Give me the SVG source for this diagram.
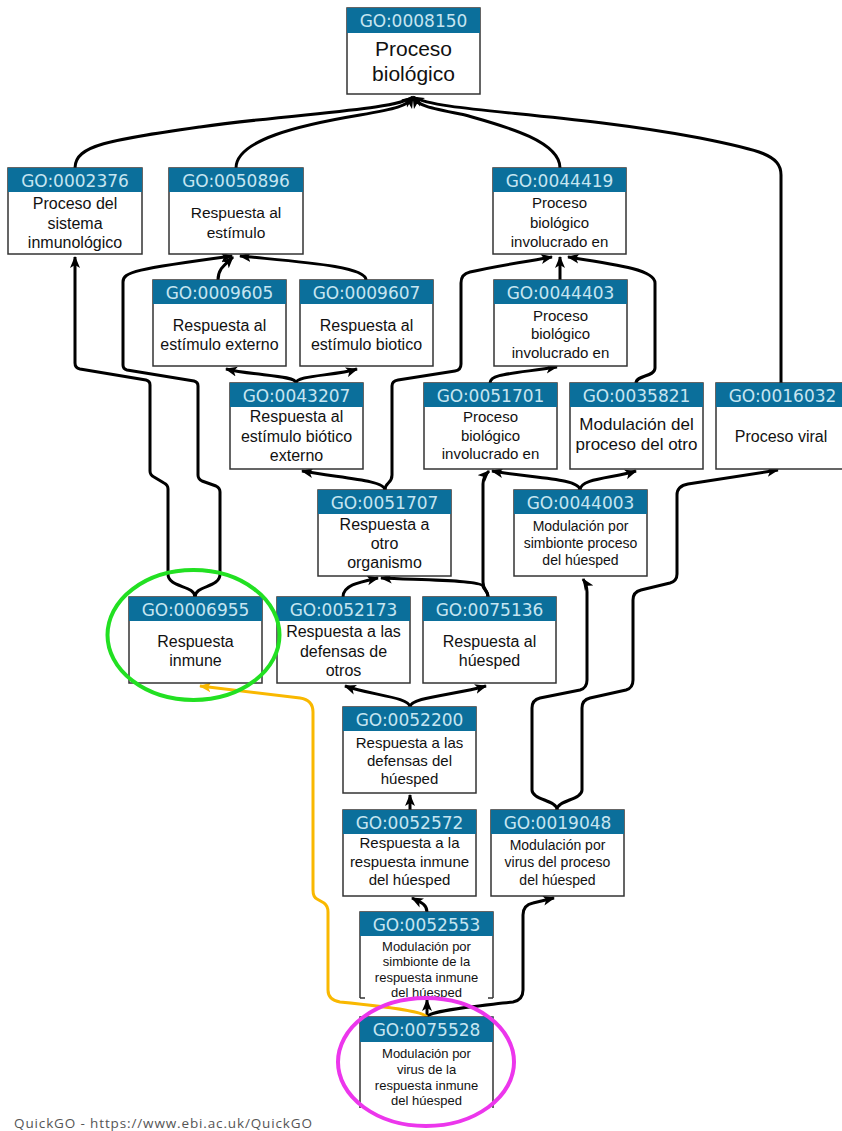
<svg xmlns="http://www.w3.org/2000/svg" width="842" height="1131" viewBox="0 0 842 1131">
<style>
.box{fill:#fff;stroke:#333;stroke-width:1.5}
.hdr{fill:#0b6f9b}
.id{font-family:"DejaVu Sans",sans-serif;font-size:17px;fill:#c6e5f1;text-anchor:middle}
.lbl{font-family:"Liberation Sans",Arial,sans-serif;fill:#111;text-anchor:middle}
.e{fill:none;stroke:#000;stroke-width:3;stroke-linejoin:round;marker-end:url(#ah)}
.y{fill:none;stroke:#f9b800;stroke-width:3;stroke-linejoin:round;marker-end:url(#ahy)}
.ring{fill:none;stroke-width:4}
</style>
<defs>
<marker id="ah" markerUnits="userSpaceOnUse" markerWidth="13" markerHeight="11" refX="11" refY="5" orient="auto" viewBox="0 0 13 10">
<path d="M0,0 L12,5 L0,10 L3,5 Z" fill="#000"/>
</marker>
<marker id="ahy" markerUnits="userSpaceOnUse" markerWidth="13" markerHeight="11" refX="11" refY="5" orient="auto" viewBox="0 0 13 10">
<path d="M0,0 L12,5 L0,10 L3,5 Z" fill="#f9b800"/>
</marker>
</defs>
<rect width="842" height="1131" fill="#fff"/>
<g id="connectors">
<path class="e" d="M75,168 C75,145 110,140 200,127 C300,113 395,110 413,97"/>
<path class="e" d="M236,168 C236,140 300,125 360,115 C395,109 408,106 413,97"/>
<path class="e" d="M560,168 C560,140 500,125 465,115 C430,108 418,106 413,97"/>
<path class="e" d="M781,383 L781,175 C781,155 760,150 700,138 C560,112 440,112 413,97"/>
<path class="e" d="M195,597 C195,585 168,588 168,574 L168,489 Q168,485 164,483 L154,477 Q150,475 150,471 L150,385 Q150,381 146,380 L80,369 Q75,368 75,363 L75,257"/>
<path class="e" d="M195,597 C195,585 220,588 220,574 L220,492 Q220,488 216,486 L202,481 Q198,479 198,475 L198,386 Q198,382 194,381 L127,370 Q123,369 123,365 L123,282 C123,272 135,269 232,256"/>
<path class="e" d="M218,280 C218,268 226,264 233,257"/>
<path class="e" d="M366,280 C366,266 300,262 240,256"/>
<path class="e" d="M296,383 C296,375 255,376 226,369"/>
<path class="e" d="M296,383 C296,375 335,376 357,369"/>
<path class="e" d="M560,280 L560,257"/>
<path class="e" d="M385,490 C385,482 392,484 392,475 L392,386 Q392,381 398,380 L455,371 Q461,370 461,364 L461,283 Q461,274 470,272 C495,266 530,261 552,257"/>
<path class="e" d="M636,383 C636,375 655,377 655,368 L655,283 C655,270 620,265 568,257"/>
<path class="e" d="M490,383 C490,374 510,374 557,367"/>
<path class="e" d="M385,490 C385,480 340,478 302,471"/>
<path class="e" d="M580,490 C580,478 530,478 492,471"/>
<path class="e" d="M580,490 C580,478 615,478 636,471"/>
<path class="e" d="M488,597 C488,590 483,590 483,582 L483,484 Q483,477 489,471"/>
<path class="e" d="M488,597 C488,590 483,590 483,586 C480,580 420,580 381,578"/>
<path class="e" d="M343,597 C343,585 360,582 378,578"/>
<path class="e" d="M557,810 C557,800 532,800 532,790 L532,708 Q532,700 540,698 L580,690 Q587,688 587,680 L587,592 Q587,585 583,579"/>
<path class="e" d="M557,810 C557,800 582,800 582,790 L582,708 Q582,700 590,698 L626,690 Q633,688 633,680 L633,600 Q633,592 641,590 L670,583 Q677,581 677,574 L677,495 Q677,486 688,484 L778,470"/>
<path class="e" d="M410,707 C410,697 370,695 345,686"/>
<path class="e" d="M410,707 C410,697 455,695 486,686"/>
<path class="e" d="M410,810 L410,795"/>
<path class="e" d="M427,912 C427,904 420,902 412,898"/>
<path class="e" d="M427,1017 L427,1000"/>
<path class="e" d="M427,1017 C430,1010 480,1006 513,1002 Q523,1000 523,990 L523,915 Q523,905 533,903 L554,898"/>
<path class="y" d="M427,1017 C424,1012 400,1008 340,1002 Q328,1000 328,990 L328,912 Q328,906 324,903 L317,899 Q313,897 313,890 L313,712 Q313,700 300,698 L200,686"/>
</g>
<g id="GO_0008150">
<rect class="box" x="347" y="8" width="133" height="86"/><rect class="hdr" x="347" y="8" width="133" height="25"/>
<text class="id" x="413.5" y="27">GO:0008150</text>
<text class="lbl" font-size="21"><tspan x="413.5" y="56">Proceso</tspan><tspan x="413.5" y="81">biológico</tspan></text>
</g>
<g id="GO_0002376">
<rect class="box" x="8" y="168" width="134" height="86"/><rect class="hdr" x="8" y="168" width="134" height="24"/>
<text class="id" x="75" y="186.5">GO:0002376</text>
<text class="lbl" font-size="16"><tspan x="75" y="209">Proceso del</tspan><tspan x="75" y="229">sistema</tspan><tspan x="75" y="248">inmunológico</tspan></text>
</g>
<g id="GO_0050896">
<rect class="box" x="169" y="168" width="134" height="86"/><rect class="hdr" x="169" y="168" width="134" height="24"/>
<text class="id" x="236" y="186.5">GO:0050896</text>
<text class="lbl" font-size="15.5"><tspan x="236" y="218">Respuesta al</tspan><tspan x="236" y="238">estímulo</tspan></text>
</g>
<g id="GO_0044419">
<rect class="box" x="493" y="168" width="133" height="86"/><rect class="hdr" x="493" y="168" width="133" height="24"/>
<text class="id" x="559.5" y="186.5">GO:0044419</text>
<text class="lbl" font-size="15"><tspan x="559.5" y="208">Proceso</tspan><tspan x="559.5" y="228">biológico</tspan><tspan x="559.5" y="247">involucrado en</tspan></text>
</g>
<g id="GO_0009605">
<rect class="box" x="153" y="280" width="133" height="86"/><rect class="hdr" x="153" y="280" width="133" height="24"/>
<text class="id" x="219.5" y="298.5">GO:0009605</text>
<text class="lbl" font-size="16"><tspan x="219.5" y="331">Respuesta al</tspan><tspan x="219.5" y="350">estímulo externo</tspan></text>
</g>
<g id="GO_0009607">
<rect class="box" x="300" y="280" width="133" height="86"/><rect class="hdr" x="300" y="280" width="133" height="24"/>
<text class="id" x="366.5" y="298.5">GO:0009607</text>
<text class="lbl" font-size="16"><tspan x="366.5" y="331">Respuesta al</tspan><tspan x="366.5" y="350">estímulo biotico</tspan></text>
</g>
<g id="GO_0044403">
<rect class="box" x="494" y="280" width="133" height="86"/><rect class="hdr" x="494" y="280" width="133" height="24"/>
<text class="id" x="560.5" y="298.5">GO:0044403</text>
<text class="lbl" font-size="15"><tspan x="560.5" y="321">Proceso</tspan><tspan x="560.5" y="339">biológico</tspan><tspan x="560.5" y="358">involucrado en</tspan></text>
</g>
<g id="GO_0043207">
<rect class="box" x="230" y="383" width="133" height="86"/><rect class="hdr" x="230" y="383" width="133" height="24"/>
<text class="id" x="296.5" y="401.5">GO:0043207</text>
<text class="lbl" font-size="16"><tspan x="296.5" y="422">Respuesta al</tspan><tspan x="296.5" y="442">estímulo biótico</tspan><tspan x="296.5" y="461">externo</tspan></text>
</g>
<g id="GO_0051701">
<rect class="box" x="424" y="383" width="133" height="86"/><rect class="hdr" x="424" y="383" width="133" height="24"/>
<text class="id" x="490.5" y="401.5">GO:0051701</text>
<text class="lbl" font-size="15"><tspan x="490.5" y="422">Proceso</tspan><tspan x="490.5" y="441">biológico</tspan><tspan x="490.5" y="459">involucrado en</tspan></text>
</g>
<g id="GO_0035821">
<rect class="box" x="570" y="383" width="133" height="86"/><rect class="hdr" x="570" y="383" width="133" height="24"/>
<text class="id" x="636.5" y="401.5">GO:0035821</text>
<text class="lbl" font-size="17"><tspan x="636.5" y="430">Modulación del</tspan><tspan x="636.5" y="450">proceso del otro</tspan></text>
</g>
<g id="GO_0016032">
<rect class="box" x="716" y="383" width="133" height="86"/><rect class="hdr" x="716" y="383" width="133" height="24"/>
<text class="id" x="782.5" y="401.5">GO:0016032</text>
<text class="lbl" font-size="16"><tspan x="781" y="442">Proceso viral</tspan></text>
</g>
<g id="GO_0051707">
<rect class="box" x="318" y="490" width="133" height="86"/><rect class="hdr" x="318" y="490" width="133" height="24"/>
<text class="id" x="384.5" y="508.5">GO:0051707</text>
<text class="lbl" font-size="16"><tspan x="384.5" y="530">Respuesta a</tspan><tspan x="384.5" y="549">otro</tspan><tspan x="384.5" y="568">organismo</tspan></text>
</g>
<g id="GO_0044003">
<rect class="box" x="514" y="490" width="133" height="86"/><rect class="hdr" x="514" y="490" width="133" height="24"/>
<text class="id" x="580.5" y="508.5">GO:0044003</text>
<text class="lbl" font-size="14"><tspan x="580.5" y="531">Modulación por</tspan><tspan x="580.5" y="548">simbionte proceso</tspan><tspan x="580.5" y="565">del húesped</tspan></text>
</g>
<g id="GO_0006955">
<rect class="box" x="129" y="597" width="133" height="86"/><rect class="hdr" x="129" y="597" width="133" height="24"/>
<text class="id" x="195.5" y="615.5">GO:0006955</text>
<text class="lbl" font-size="16"><tspan x="195.5" y="647">Respuesta</tspan><tspan x="195.5" y="666">inmune</tspan></text>
</g>
<g id="GO_0052173">
<rect class="box" x="277" y="597" width="133" height="86"/><rect class="hdr" x="277" y="597" width="133" height="24"/>
<text class="id" x="343.5" y="615.5">GO:0052173</text>
<text class="lbl" font-size="16"><tspan x="343.5" y="637">Respuesta a las</tspan><tspan x="343.5" y="657">defensas de</tspan><tspan x="343.5" y="676">otros</tspan></text>
</g>
<g id="GO_0075136">
<rect class="box" x="423" y="597" width="133" height="86"/><rect class="hdr" x="423" y="597" width="133" height="24"/>
<text class="id" x="489.5" y="615.5">GO:0075136</text>
<text class="lbl" font-size="16"><tspan x="489.5" y="647">Respuesta al</tspan><tspan x="489.5" y="666">húesped</tspan></text>
</g>
<g id="GO_0052200">
<rect class="box" x="343" y="707" width="133" height="86"/><rect class="hdr" x="343" y="707" width="133" height="24"/>
<text class="id" x="409.5" y="725.5">GO:0052200</text>
<text class="lbl" font-size="15"><tspan x="409.5" y="748">Respuesta a las</tspan><tspan x="409.5" y="766">defensas del</tspan><tspan x="409.5" y="784">húesped</tspan></text>
</g>
<g id="GO_0052572">
<rect class="box" x="343" y="810" width="133" height="86"/><rect class="hdr" x="343" y="810" width="133" height="24"/>
<text class="id" x="409.5" y="828.5">GO:0052572</text>
<text class="lbl" font-size="15"><tspan x="409.5" y="848">Respuesta a la</tspan><tspan x="409.5" y="867">respuesta inmune</tspan><tspan x="409.5" y="885">del húesped</tspan></text>
</g>
<g id="GO_0019048">
<rect class="box" x="491" y="810" width="133" height="86"/><rect class="hdr" x="491" y="810" width="133" height="24"/>
<text class="id" x="557.5" y="828.5">GO:0019048</text>
<text class="lbl" font-size="14"><tspan x="557.5" y="850">Modulación por</tspan><tspan x="557.5" y="867">virus del proceso</tspan><tspan x="557.5" y="885">del húesped</tspan></text>
</g>
<g id="GO_0052553">
<rect x="360" y="912" width="133" height="86" fill="#fff"/>
<path d="M360,998 L360,912 L493,912 L493,998 M360,998 L365,998 M493,998 L488,998" fill="none" stroke="#333" stroke-width="1.5"/>
<rect class="hdr" x="360" y="912" width="133" height="24"/>
<text class="id" x="426.5" y="930.5">GO:0052553</text>
<text class="lbl" font-size="13"><tspan x="426.5" y="951">Modulación por</tspan><tspan x="426.5" y="966">simbionte de la</tspan><tspan x="426.5" y="982">respuesta inmune</tspan><tspan x="426.5" y="997">del húesped</tspan></text>
</g>
<g id="GO_0075528">
<rect x="360" y="1017" width="133" height="91" fill="#fff"/>
<path d="M360,1108 L360,1017 L493,1017 L493,1108" fill="none" stroke="#333" stroke-width="1.5"/>
<rect class="hdr" x="360" y="1017" width="133" height="25"/>
<text class="id" x="426.5" y="1036">GO:0075528</text>
<text class="lbl" font-size="13"><tspan x="426.5" y="1058">Modulación por</tspan><tspan x="426.5" y="1074">virus de la</tspan><tspan x="426.5" y="1090">respuesta inmune</tspan><tspan x="426.5" y="1105">del húesped</tspan></text>
</g>
<ellipse class="ring" cx="193.5" cy="635" rx="86" ry="65" stroke="#22e022"/>
<ellipse class="ring" cx="426" cy="1062" rx="88" ry="64" stroke="#ec36ec"/>
<text x="14" y="1128" font-family="'Open Sans',sans-serif" font-size="13.5" fill="#555" textLength="298">QuickGO - https://www.ebi.ac.uk/QuickGO</text>
</svg>
